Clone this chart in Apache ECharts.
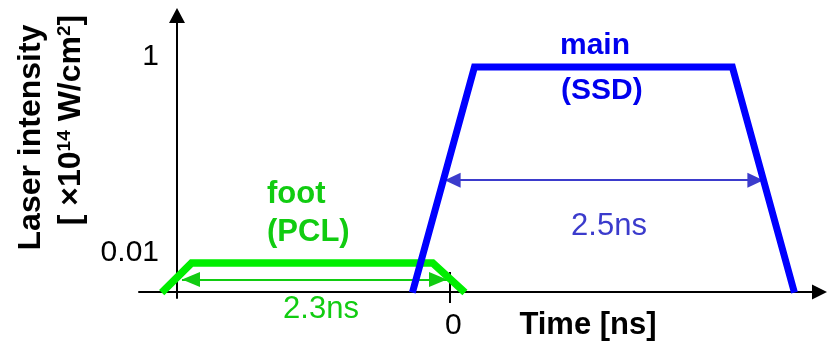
<!DOCTYPE html>
<html><head><meta charset="utf-8">
<script src="https://cdn.jsdelivr.net/npm/echarts@6/dist/echarts.min.js"></script>
<style>html,body{margin:0;padding:0;background:#fff}#c{width:832px;height:343px}</style>
</head><body><div id="c"></div>
<script>
// Schematic laser pulse shapes: time in ns, intensity in 1e14 W/cm^2 (log axis)
const baseline = 0.005;                 // level used for "zero" intensity on the log axis
const footTime = [-2.41, -2.16, -0.14, 0.13];
const footIntensity = [baseline, 0.01, 0.01, baseline];
const mainTime = [-0.31, 0.21, 2.37, 2.89];
const mainIntensity = [baseline, 1, 1, baseline];
const footArrowTime = [-2.24, -0.02];
const footArrowLevel = 0.0068;
const mainArrowTime = [-0.04, 2.63];
const mainArrowLevel = 0.07;
const yTickValues = [0.01, 1];
const yTickLabels = ['0.01', '1'];
const xTickValues = [0];
const xTickLabels = ['0'];
const footWidthText = '2.3ns';
const mainWidthText = '2.5ns';

const FONT = '"Liberation Sans", Arial, sans-serif';
const GREEN = '#00ee00', GREEN_T = '#11cc11';
const BLUE = '#0000ff', BLUE_T = '#0000ee', BLUE_A = '#3b3bcc';
// triangle with tip at symbol centre (extra moveTo widens bbox)
const ARROW = 'path://M0,-16 M0,0 L6.5,16 L-6.5,16 Z';

function pick(vals, labels, v) {
  for (let i = 0; i < vals.length; i++) if (Math.abs(vals[i] - v) <= Math.abs(vals[i]) * 1e-6 + 1e-9) return labels[i];
  return '';
}

const chart = echarts.init(document.getElementById('c'), null, {renderer: 'canvas'});
const axisLineStyle = {color: '#000', width: 2};
chart.setOption({
  animation: false,
  grid: {left: 139, right: 12.5, top: 15.5, bottom: 45, containLabel: false},
  xAxis: [{
    type: 'value', min: -2.6, max: 3.1, position: 'bottom', offset: -6,
    axisLine: {show: true, onZero: false, symbol: ['none', 'triangle'], symbolSize: [15, 15], lineStyle: axisLineStyle},
    axisTick: {show: true, customValues: xTickValues, inside: false, length: 11, lineStyle: axisLineStyle},
    axisLabel: {customValues: xTickValues, formatter: v => pick(xTickValues, xTickLabels, v),
      fontSize: 30, fontFamily: FONT, color: '#000', margin: 19, padding: [0, 0, 0, 8]},
    splitLine: {show: false}
  }, {
    type: 'value', min: -2.6, max: 3.1, position: 'bottom', offset: -6,
    axisLine: {show: false, onZero: false},
    axisTick: {show: true, customValues: xTickValues, inside: true, length: 20, lineStyle: axisLineStyle},
    axisLabel: {show: false},
    splitLine: {show: false}
  }],
  yAxis: {
    type: 'log', logBase: 10, min: 0.0044, max: 3.355, position: 'left', offset: -38,
    axisLine: {show: true, onZero: false, symbol: ['none', 'triangle'], symbolSize: [16, 15], lineStyle: axisLineStyle},
    axisTick: {show: false},
    minorTick: {show: false},
    axisLabel: {customValues: yTickValues, formatter: v => pick(yTickValues, yTickLabels, v),
      fontSize: 30, fontFamily: FONT, color: '#000', margin: 18, verticalAlign: 'bottom', lineHeight: 20},
    splitLine: {show: false}
  },
  series: [
    {type: 'line', name: 'foot', data: footTime.map((t, i) => [t, footIntensity[i]]),
      symbol: 'none', lineStyle: {color: GREEN, width: 7.5, cap: 'butt', join: 'miter'}, silent: true},
    {type: 'lines', coordinateSystem: 'cartesian2d', silent: true,
      symbol: [ARROW, ARROW], symbolSize: [[15, 36], [15, 36]],
      lineStyle: {color: GREEN_T, width: 2, opacity: 1},
      data: [{coords: [[footArrowTime[0], footArrowLevel], [footArrowTime[1], footArrowLevel]]}]},
    {type: 'line', name: 'main', data: mainTime.map((t, i) => [t, mainIntensity[i]]),
      symbol: 'none', lineStyle: {color: BLUE, width: 7, cap: 'butt', join: 'miter'}, silent: true},
    {type: 'lines', coordinateSystem: 'cartesian2d', silent: true,
      symbol: [ARROW, ARROW], symbolSize: [[15, 32], [15, 32]],
      lineStyle: {color: BLUE_A, width: 2, opacity: 1},
      data: [{coords: [[mainArrowTime[0], mainArrowLevel], [mainArrowTime[1], mainArrowLevel]]}]}
  ],
  graphic: [
    {type: 'text', x: 31.5, y: 137.5, rotation: Math.PI / 2, silent: true,
      style: {text: 'Laser intensity', fontSize: 32, fontWeight: 'bold', fontFamily: FONT, fill: '#000', align: 'center', verticalAlign: 'middle'}},
    {type: 'text', x: 71, y: 120, rotation: Math.PI / 2, silent: true,
      style: {text: '[ ×10{sup|14} W/cm{sup|2}]', fontSize: 32, fontWeight: 'bold', fontFamily: FONT, fill: '#000', align: 'center', verticalAlign: 'middle',
        rich: {sup: {fontSize: 19, fontWeight: 'bold', fontFamily: FONT, fill: '#000', verticalAlign: 'top'}}}},
    {type: 'text', x: 560, y: 46, silent: true,
      style: {text: 'main', fontSize: 30, fontWeight: 'bold', fontFamily: FONT, fill: BLUE_T, align: 'left', verticalAlign: 'middle'}},
    {type: 'text', x: 561, y: 91, silent: true,
      style: {text: '(SSD)', fontSize: 30, fontWeight: 'bold', fontFamily: FONT, fill: BLUE_T, align: 'left', verticalAlign: 'middle'}},
    {type: 'text', x: 267, y: 194, silent: true,
      style: {text: 'foot', fontSize: 31, fontWeight: 'bold', fontFamily: FONT, fill: GREEN_T, align: 'left', verticalAlign: 'middle'}},
    {type: 'text', x: 267, y: 232, silent: true,
      style: {text: '(PCL)', fontSize: 31, fontWeight: 'bold', fontFamily: FONT, fill: GREEN_T, align: 'left', verticalAlign: 'middle'}},
    {type: 'text', x: 321, y: 309, silent: true,
      style: {text: footWidthText, fontSize: 31, fontFamily: FONT, fill: GREEN_T, align: 'center', verticalAlign: 'middle'}},
    {type: 'text', x: 609, y: 226, silent: true,
      style: {text: mainWidthText, fontSize: 31, fontFamily: FONT, fill: BLUE_A, align: 'center', verticalAlign: 'middle'}},
    {type: 'text', x: 588, y: 325, silent: true,
      style: {text: 'Time [ns]', fontSize: 31, fontWeight: 'bold', fontFamily: FONT, fill: '#000', align: 'center', verticalAlign: 'middle'}}
  ]
});
</script></body></html>
